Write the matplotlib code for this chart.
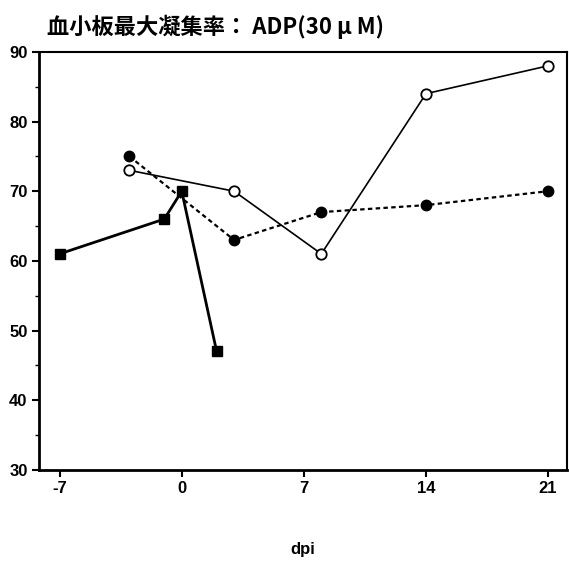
import matplotlib
matplotlib.use('Agg')
import matplotlib.pyplot as plt
from matplotlib.ticker import MultipleLocator

plt.rcParams['font.family'] = ['Liberation Sans', 'Noto Sans CJK JP', 'DejaVu Sans']
plt.rcParams['axes.unicode_minus'] = False

# Data
sq_days = [-7, -1, 0, 2]
sq_vals = [61, 66, 70, 47]
open_days = [-3, 3, 8, 14, 21]
open_vals = [73, 70, 61, 84, 88]
filled_days = [-3, 3, 8, 14, 21]
filled_vals = [75, 63, 67, 68, 70]
xticks = [-7, 0, 7, 14, 21]

fig = plt.figure(figsize=(5.69, 5.64), dpi=100)
ax = fig.add_axes([0.068, 0.167, 0.929, 0.741])

ax.plot(sq_days, sq_vals, color='black', lw=2, marker='s', ms=7.5, zorder=3)
ax.plot(open_days, open_vals, color='black', lw=1.2, marker='o', ms=7.5,
        markerfacecolor='white', markeredgewidth=1.3, zorder=3)
ax.plot(filled_days, filled_vals, color='black', lw=1.6, ls=(0, (2, 1.5)),
        marker='o', ms=7.5, zorder=3)

ax.set_xlim(-8.2, 22.1)
ax.set_ylim(30, 90)
ax.set_xticks(xticks)
ax.yaxis.set_major_locator(MultipleLocator(10))
ax.yaxis.set_minor_locator(MultipleLocator(5))
ax.tick_params(axis='both', direction='out', width=1.5, length=5,
               labelsize=12, pad=3)
ax.tick_params(axis='y', which='minor', length=3, width=1)
for lab in ax.get_xticklabels() + ax.get_yticklabels():
    lab.set_fontweight('bold')

ax.spines['left'].set_linewidth(2)
ax.spines['bottom'].set_linewidth(2)
ax.spines['top'].set_linewidth(1.5)
ax.spines['right'].set_linewidth(1.5)

ax.set_xlabel('dpi', fontsize=12, fontweight='bold', labelpad=33)
fig.text(0.082, 0.953, '血小板最大凝集率： ADP(30 μ M)', fontsize=16,
         fontweight='bold', family=['Noto Sans CJK JP', 'DejaVu Sans'],
         va='center', ha='left')

fig.savefig('out.png', dpi=100)
